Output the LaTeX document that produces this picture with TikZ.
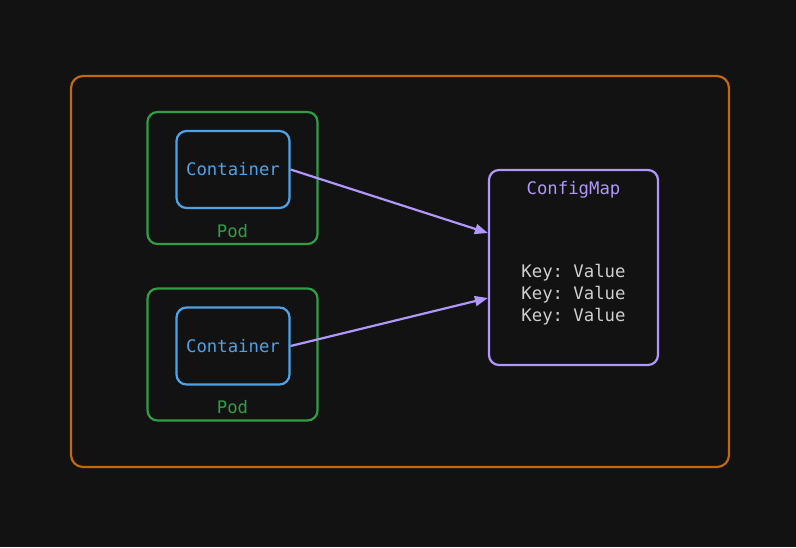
\documentclass[tikz,border=0pt]{standalone}
\usepackage{fontspec}
\setmonofont{DejaVu Sans Mono}
\usepackage{tikz}
\usetikzlibrary{positioning,arrows.meta}

\definecolor{bgcol}{HTML}{121212}
\definecolor{clustercol}{HTML}{C2680F}
\definecolor{podcol}{HTML}{2F9E44}
\definecolor{contcol}{HTML}{4DA3E8}
\definecolor{mapcol}{HTML}{B197FC}
\definecolor{keycol}{HTML}{CFCFCF}

\tikzset{
  box/.style={draw, line width=2.2pt, rounded corners=10pt},
  pod/.style={box, draw=podcol, minimum width=170, minimum height=132},
  container/.style={box, draw=contcol, text=contcol, minimum width=113, minimum height=77},
  configmap/.style={box, draw=mapcol, minimum width=169, minimum height=195},
}

\begin{document}
\begin{tikzpicture}[x=1pt, y=-1pt, >={Triangle[length=13pt,width=10pt]},
  font=\ttfamily\fontsize{17.3}{22}\selectfont]

\fill[bgcol] (0,0) rectangle (796,547);
\useasboundingbox (0,0) rectangle (796,547);

\node [box, draw=clustercol, rounded corners=12pt, minimum width=658, minimum height=391] (cluster) at (400,271.5) {};

\foreach \y [count=\i] in {178,354.5}
  \node [pod] (pod-\i) at (232.5,\y) {};

\foreach \y [count=\i] in {169.5,346}
  \node [container] (container-\i) at (233,\y) {Container};

\foreach \i in {1,2}
  \node [text=podcol, above=4pt of pod-\i.south] (podlabel-\i) {Pod};

\node [configmap] (configmap) at (573.5,267.5) {};
\node [text=mapcol, below=9pt of configmap.north] (maptitle) {ConfigMap};
\node [text=keycol, align=center] (keys) at (573.5,295) {Key: Value\\Key: Value\\Key: Value};

\draw [->, mapcol, line width=2.2pt] (container-1.east) -- ([yshift=34.5pt]configmap.west);
\draw [->, mapcol, line width=2.2pt] (container-2.east) -- ([yshift=-30.5pt]configmap.west);
\end{tikzpicture}
\end{document}
